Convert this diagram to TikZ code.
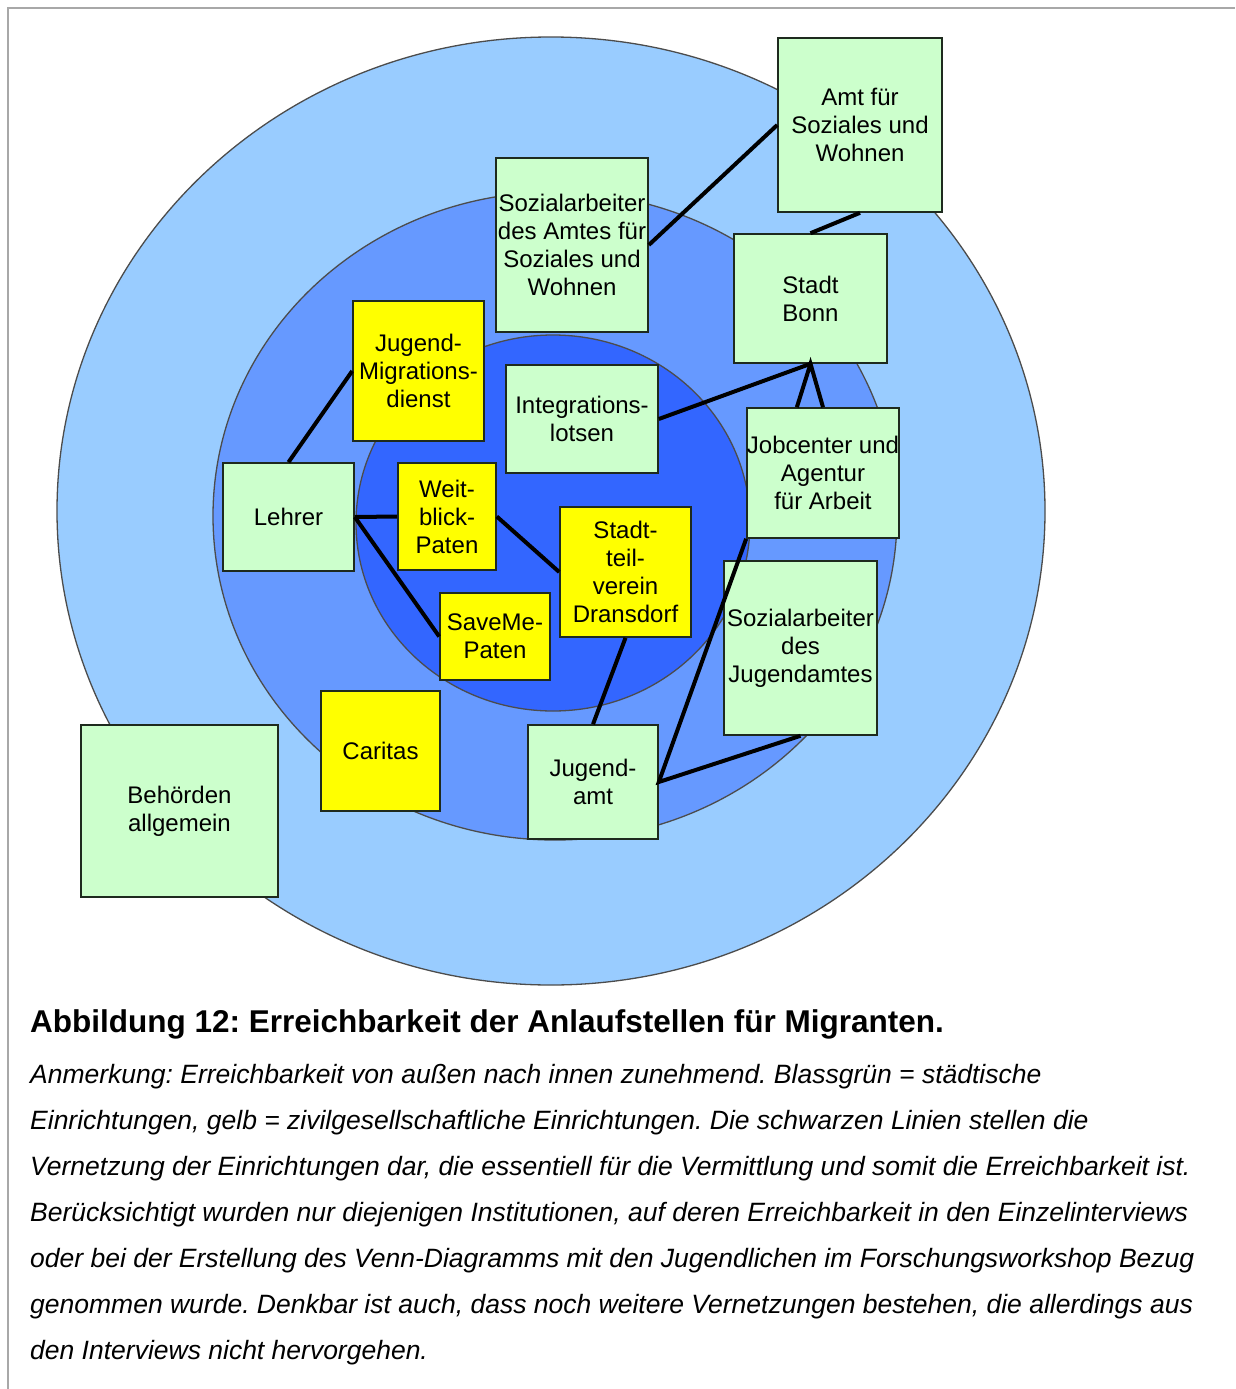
\documentclass[tikz,border=0pt]{standalone}
\usepackage{fontspec}
\setmainfont{Liberation Sans}
\usepackage{tikz}
\usetikzlibrary{calc}
\definecolor{ringout}{HTML}{99CCFF}
\definecolor{ringmid}{HTML}{6699FF}
\definecolor{ringin}{HTML}{3366FF}
\definecolor{pale}{HTML}{CCFFCC}
\definecolor{gelb}{HTML}{FFFF00}
\definecolor{boxline}{HTML}{1E2A1E}
\definecolor{rahmen}{HTML}{A8A8A8}
\tikzset{
  ring/.style={draw=black!70, line width=1.3pt},
  inst/.style={draw=boxline, line width=1.6pt, inner sep=0pt, align=center,
    font=\fontsize{24}{28}\selectfont},
  city/.style={inst, fill=pale},
  civil/.style={inst, fill=gelb},
  link/.style={draw=black, line width=4pt},
  lab/.style={anchor=base west, inner sep=0pt},
  note/.style={lab, font=\fontsize{26.5}{30}\itshape}
}
\frenchspacing

\begin{document}
\begin{tikzpicture}[x=1pt, y=-1pt]
  \useasboundingbox (0,0) rectangle (1235,1389);
  \fill[white] (0,0) rectangle (1235,1389);
  \draw[rahmen, line width=1.5pt] (8,1389) -- (8,8) -- (1235,8);

  % rings: reachability grows towards the centre
  \filldraw[ring, fill=ringout] (551,511) ellipse [x radius=494pt, y radius=474pt];
  \filldraw[ring, fill=ringmid] (555,516) ellipse [x radius=342pt, y radius=324pt];
  \filldraw[ring, fill=ringin] (553,523) ellipse [x radius=197pt, y radius=188pt];

  % municipal institutions
  \node[city, minimum width=164pt, minimum height=174pt] (amt) at (860,125) {Amt für\\Soziales und\\Wohnen};
  \node[city, minimum width=152pt, minimum height=174pt] (sozamt) at (572,245) {Sozialarbeiter\\des Amtes für\\Soziales und\\Wohnen};
  \node[city, minimum width=153pt, minimum height=129pt] (stadt) at (810.5,298.5) {Stadt\\Bonn};
  \node[city, minimum width=152pt, minimum height=108pt] (integ) at (582,419) {Integrations-\\lotsen};
  \node[city, minimum width=152pt, minimum height=130pt] (job) at (823,473) {Jobcenter und\\Agentur\\für Arbeit};
  \node[city, minimum width=131pt, minimum height=108pt] (lehrer) at (288.5,517) {Lehrer};
  \node[city, minimum width=130pt, minimum height=114pt] (ja) at (593,782) {Jugend-\\amt};
  \node[city, minimum width=153pt, minimum height=174pt] (sozja) at (800.5,648) {Sozialarbeiter\\des\\Jugendamtes};
  \node[city, minimum width=197pt, minimum height=172pt] (beh) at (179.5,811) {Behörden\\allgemein};

  % civil society
  \node[civil, minimum width=131pt, minimum height=140pt] (jmd) at (418.5,371) {Jugend-\\Migrations-\\dienst};
  \node[civil, minimum width=98pt, minimum height=107pt] (weit) at (447,516.5) {Weit-\\blick-\\Paten};
  \node[civil, minimum width=131pt, minimum height=130pt] (stv) at (625.5,572) {Stadt-\\teil-\\verein\\Dransdorf};
  \node[civil, minimum width=110pt, minimum height=87pt] (save) at (495,636.5) {SaveMe-\\Paten};
  \node[civil, minimum width=119pt, minimum height=120pt] (caritas) at (380.5,751) {Caritas};

  % network lines
  \draw[link] (sozamt.east) -- (amt.west);
  \draw[link] (amt.south) -- (stadt.north);
  \draw[link] (integ.east) -- (stadt.south);
  \draw[link] ($(job.north west)!0.33!(job.north east)$) -- (stadt.south) -- (job.north);
  \draw[link] (lehrer.north) -- (jmd.west);
  \draw[link] (lehrer.east) -- (weit.west);
  \draw[link] (lehrer.east) -- (save.west);
  \draw[link] (weit.east) -- (stv.west);
  \draw[link] (stv.south) -- (ja.north);
  \draw[link] (job.south west) -- (ja.east) -- (sozja.south);

  % caption
  \node[lab, font=\fontsize{31.5}{36}\bfseries] (title) at (30,1032) {Abbildung 12: Erreichbarkeit der Anlaufstellen für Migranten.};
  \node[note] (note1) at (30,1083) {Anmerkung: Erreichbarkeit von außen nach innen zunehmend. Blassgrün = städtische};
  \node[note] (note2) at (30,1129) {Einrichtungen, gelb = zivilgesellschaftliche Einrichtungen. Die schwarzen Linien stellen die};
  \node[note] (note3) at (30,1175) {Vernetzung der Einrichtungen dar, die essentiell für die Vermittlung und somit die Erreichbarkeit ist.};
  \node[note] (note4) at (30,1221) {Berücksichtigt wurden nur diejenigen Institutionen, auf deren Erreichbarkeit in den Einzelinterviews};
  \node[note] (note5) at (30,1267) {oder bei der Erstellung des Venn-Diagramms mit den Jugendlichen im Forschungsworkshop Bezug};
  \node[note] (note6) at (30,1313) {genommen wurde. Denkbar ist auch, dass noch weitere Vernetzungen bestehen, die allerdings aus};
  \node[note] (note7) at (30,1359) {den Interviews nicht hervorgehen.};
\end{tikzpicture}
\end{document}
